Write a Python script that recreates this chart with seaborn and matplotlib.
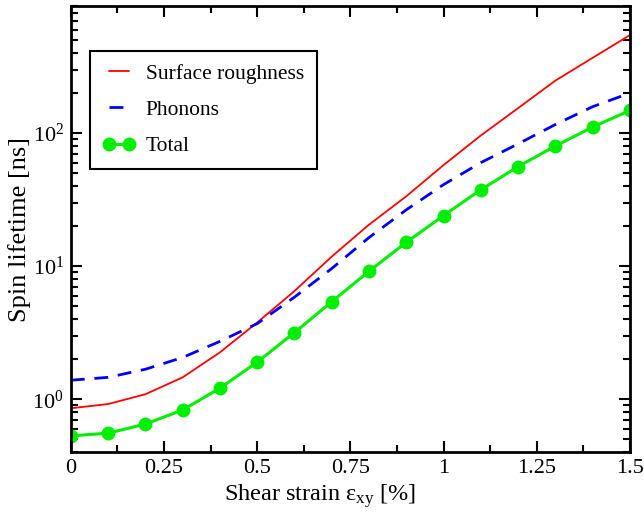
import numpy as np
import pandas as pd
import matplotlib
matplotlib.use("Agg")
import matplotlib.pyplot as plt
import seaborn as sb
from matplotlib.ticker import MultipleLocator, LogLocator, NullFormatter

strain = [0.0, 0.1, 0.2, 0.3, 0.4, 0.5, 0.6, 0.7, 0.8, 0.9, 1.0, 1.1, 1.2, 1.3, 1.4, 1.5]
surface = [0.855, 0.92, 1.09, 1.46, 2.25, 3.77, 6.5, 11.8, 20.5, 33.5, 57.5, 96, 154, 248, 368, 545]
phonons = [1.39, 1.46, 1.68, 2.06, 2.72, 3.7, 5.85, 9.6, 16.4, 26.5, 41, 60, 83, 116, 158, 200]
total = [0.53, 0.556, 0.65, 0.83, 1.21, 1.9, 3.17, 5.4, 9.15, 15.1, 24, 37.5, 56, 80, 111, 148]

sb.set_style("ticks")
plt.rcParams['font.family'] = ['Liberation Serif', 'DejaVu Serif']
plt.rcParams['mathtext.fontset'] = 'custom'
plt.rcParams['mathtext.rm'] = 'Liberation Serif'
plt.rcParams['mathtext.it'] = 'Liberation Serif:italic'
plt.rcParams['text.color'] = 'black'
plt.rcParams['axes.labelcolor'] = 'black'
plt.rcParams['xtick.color'] = 'black'
plt.rcParams['ytick.color'] = 'black'

df = pd.DataFrame({'strain': strain, 'surface': surface, 'phonons': phonons, 'total': total})

fig = plt.figure(figsize=(6.44, 5.15), dpi=100)
ax = fig.add_axes([0.110, 0.122, 0.868, 0.866])

sb.lineplot(data=df, x='strain', y='surface', ax=ax, color='#ff0000', linewidth=1.3,
            label='Surface roughness')
sb.lineplot(data=df, x='strain', y='phonons', ax=ax, color='#0000ff', linewidth=2.0,
            linestyle=(0, (5, 3.5)), label='Phonons')
sb.lineplot(data=df, x='strain', y='total', ax=ax, color='#00ee00', linewidth=2.2,
            marker='o', markersize=10, markeredgewidth=0, label='Total')

ax.set_yscale('log')
ax.set_xlim(0, 1.5)
ax.set_ylim(0.4, 900)

ax.xaxis.set_minor_locator(MultipleLocator(0.125))
ax.set_xticks([0, 0.25, 0.5, 0.75, 1.0, 1.25, 1.5])
ax.set_xticklabels(['0', '0.25', '0.5', '0.75', '1', '1.25', '1.5'])
ax.yaxis.set_minor_locator(LogLocator(base=10, subs=np.arange(2, 10), numticks=10))
ax.yaxis.set_minor_formatter(NullFormatter())
ax.set_yticks([1, 10, 100])
ax.set_yticklabels([r'$10^0$', r'$10^1$', r'$10^2$'])

ax.tick_params(which='both', direction='in', top=True, right=True, width=1.5, labelsize=16)
ax.tick_params(which='major', length=8, pad=5)
ax.tick_params(which='minor', length=5)
for s in ax.spines.values():
    s.set_linewidth(2.0)
    s.set_color('black')

ax.set_xlabel(r'Shear strain ε$_{\mathrm{xy}}$ [%]', fontsize=17.5)
ax.xaxis.set_label_coords(0.445, -0.068, transform=ax.transAxes)
ax.xaxis.label.set_va('top')
ax.set_ylabel('Spin lifetime [ns]', fontsize=19, labelpad=1)

leg = ax.legend(loc='upper left', bbox_to_anchor=(0.034, 0.9), fontsize=15.5, fancybox=False,
                framealpha=1, edgecolor='black', borderpad=0.6, handlelength=1.5,
                labelspacing=0.75, borderaxespad=0, handletextpad=0.5, numpoints=2)
leg.get_frame().set_linewidth(1.5)

fig.savefig('out.png', dpi=100)
